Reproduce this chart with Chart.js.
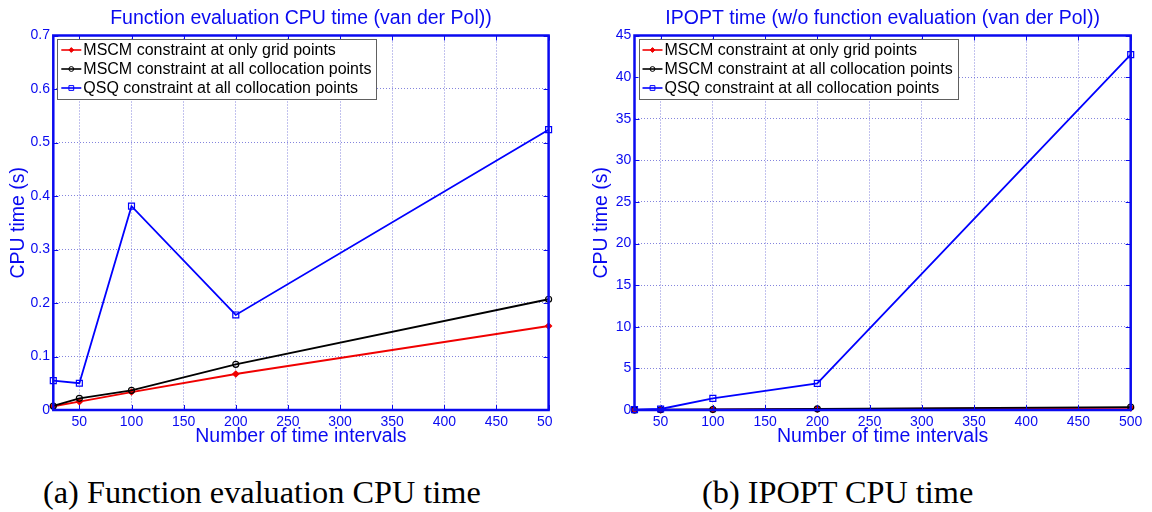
<!DOCTYPE html>
<html>
<head>
<meta charset="utf-8">
<script src="https://cdn.jsdelivr.net/npm/chart.js@4.4.0/dist/chart.umd.min.js"></script>
<style>
  html, body { margin: 0; padding: 0; background: #fff; }
  body { width: 1152px; height: 512px; position: relative; overflow: hidden; }
  .panel { position: absolute; top: 0; height: 460px; overflow: hidden; }
  #panelA { left: 0; width: 553px; }
  #panelB { left: 576px; width: 576px; }
  .caption { position: absolute; top: 476px; font: 32.3px "Liberation Serif", "Times New Roman", serif;
             line-height: 1; white-space: nowrap; color: #000; }
</style>
</head>
<body>
<div class="panel" id="panelA"><canvas id="cpuChart" width="576" height="460"></canvas></div>
<div class="panel" id="panelB"><canvas id="ipoptChart" width="576" height="460"></canvas></div>
<div class="caption" style="left:43px">(a) Function evaluation CPU time</div>
<div class="caption" style="left:702px">(b) IPOPT CPU time</div>
<script>
// ─── Data ────────────────────────────────────────────────────────────────
const intervals    = [25, 50, 100, 200, 500];
const xTicks       = [50, 100, 150, 200, 250, 300, 350, 400, 450, 500];
const seriesLabels = [
    'MSCM constraint at only grid points',
    'MSCM constraint at all collocation points',
    'QSQ constraint at all collocation points'
];

// function evaluation CPU time (s)
const cpuGrid    = [0.007, 0.0156, 0.0336, 0.0673, 0.157];
const cpuColloc  = [0.0075, 0.0218, 0.0368, 0.0854, 0.207];
const cpuQsq     = [0.0548, 0.050, 0.381, 0.1776, 0.524];
const cpuYTicks  = [0, 0.1, 0.2, 0.3, 0.4, 0.5, 0.6, 0.7];

// IPOPT time without function evaluation (s)
const ipoptGrid   = [0.01, 0.02, 0.05, 0.11, 0.25];
const ipoptColloc = [0.01, 0.03, 0.06, 0.14, 0.35];
const ipoptQsq    = [0.05, 0.12, 1.4, 3.2, 42.7];
const ipoptYTicks = [0, 5, 10, 15, 20, 25, 30, 35, 40, 45];

// ─── Style ───────────────────────────────────────────────────────────────
const BLUE      = '#0a0af0';
const GRID_BLUE = 'rgba(110,110,215,0.85)';
const SANS      = '"Liberation Sans", Arial, Helvetica, sans-serif';

const seriesStyles = [
    { color: '#f00000', pointStyle: 'rectRot', radius: 3 },
    { color: '#000000', pointStyle: 'circle',  radius: 3 },
    { color: '#0000ff', pointStyle: 'rect',    radius: 4.2 }
];

// MATLAB-like frame: box, inward ticks, title and boxed legend inside the axes
const matlabAxes = {
    id: 'matlabAxes',
    afterDraw(chart, args, opts) {
        const { ctx, chartArea: a, scales } = chart;
        ctx.save();

        // inward tick marks on all four sides
        ctx.strokeStyle = BLUE;
        ctx.lineWidth = 1;
        ctx.beginPath();
        scales.x.ticks.forEach(t => {
            const px = Math.round(scales.x.getPixelForValue(t.value)) + 0.5;
            ctx.moveTo(px, a.bottom); ctx.lineTo(px, a.bottom - 5);
            ctx.moveTo(px, a.top);    ctx.lineTo(px, a.top + 5);
        });
        scales.y.ticks.forEach(t => {
            const py = Math.round(scales.y.getPixelForValue(t.value)) + 0.5;
            ctx.moveTo(a.left, py);  ctx.lineTo(a.left + 5, py);
            ctx.moveTo(a.right, py); ctx.lineTo(a.right - 5, py);
        });
        ctx.stroke();

        // axes box
        ctx.lineWidth = 2.5;
        ctx.strokeRect(a.left, a.top, a.right - a.left, a.bottom - a.top);

        // title
        ctx.fillStyle = BLUE;
        ctx.font = '19.5px ' + SANS;
        ctx.textAlign = 'center';
        ctx.textBaseline = 'alphabetic';
        ctx.fillText(opts.title, (a.left + a.right) / 2, 24);

        // legend
        ctx.font = '16px ' + SANS;
        const sets   = chart.data.datasets;
        const textW  = Math.max(...sets.map(d => ctx.measureText(d.label).width));
        const bx     = a.left + 4;
        const by     = a.top + 3.5;
        const bw     = 26 + textW + 5;
        const bh     = 60;
        ctx.fillStyle = '#fff';
        ctx.fillRect(bx, by, bw, bh);
        ctx.strokeStyle = '#606060';
        ctx.lineWidth = 1;
        ctx.strokeRect(Math.round(bx) + 0.5, Math.round(by) + 0.5, Math.round(bw), bh);

        sets.forEach((d, i) => {
            const y = by + 11 + i * 19;
            ctx.strokeStyle = d.borderColor;
            ctx.lineWidth = 1.6;
            ctx.beginPath();
            ctx.moveTo(bx + 4, y); ctx.lineTo(bx + 24, y);
            ctx.stroke();
            ctx.fillStyle = d.pointBackgroundColor;
            ctx.strokeStyle = d.pointBorderColor;
            ctx.lineWidth = 1;
            Chart.helpers.drawPoint(ctx, {
                pointStyle: d.pointStyle, radius: d.pointRadius * 0.8,
                rotation: 0, borderWidth: 1
            }, bx + 14, y);
            ctx.fillStyle = '#000';
            ctx.textAlign = 'left';
            ctx.textBaseline = 'middle';
            ctx.fillText(d.label, bx + 26, y + 1);
        });
        ctx.restore();
    }
};

function makeDatasets(seriesValues) {
    return seriesValues.map((vals, i) => {
        const s = seriesStyles[i];
        return {
            label: seriesLabels[i],
            data: intervals.map((x, j) => ({ x, y: vals[j] })),
            borderColor: s.color,
            borderWidth: 1.8,
            pointStyle: s.pointStyle,
            pointRadius: s.radius,
            pointBorderWidth: 1.2,
            pointBorderColor: s.color,
            pointBackgroundColor: s.pointStyle === 'rectRot' ? s.color : 'rgba(0,0,0,0)',
            tension: 0,
            clip: false,
            order: 3 - i
        };
    });
}

function renderPanel(canvasId, title, seriesValues, yTicks, yMax, axisW, padRight, yTitlePad) {
    const ctx = document.getElementById(canvasId).getContext('2d');
    return new Chart(ctx, {
        type: 'line',
        data: { datasets: makeDatasets(seriesValues) },
        options: {
            responsive: false,
            animation: false,
            devicePixelRatio: 1,
            layout: { padding: { top: 35.5, left: 0, right: padRight, bottom: 0 } },
            plugins: {
                legend: { display: false },
                tooltip: { enabled: false },
                matlabAxes: { title }
            },
            scales: {
                x: {
                    type: 'linear',
                    min: 25,
                    max: 500,
                    afterBuildTicks: s => { s.ticks = xTicks.map(v => ({ value: v })); },
                    afterFit: s => { s.height = 50; s.paddingLeft = 0; s.paddingRight = 0; },
                    grid: { color: GRID_BLUE, lineWidth: 1, drawTicks: false },
                    border: { display: false, dash: [1, 2] },
                    ticks: {
                        color: BLUE, font: { family: SANS, size: 14 },
                        padding: 4, autoSkip: false, maxRotation: 0,
                        callback: v => String(v)
                    },
                    title: {
                        display: true, text: 'Number of time intervals', color: BLUE,
                        font: { family: SANS, size: 19.5 }, padding: { top: 0, bottom: 11.4 }
                    }
                },
                y: {
                    min: 0,
                    max: yMax,
                    afterBuildTicks: s => { s.ticks = yTicks.map(v => ({ value: v })); },
                    afterFit: s => { s.width = axisW; s.paddingTop = 0; s.paddingBottom = 0; },
                    grid: { color: GRID_BLUE, lineWidth: 1, drawTicks: false },
                    border: { display: false, dash: [1, 2] },
                    ticks: {
                        color: BLUE, font: { family: SANS, size: 14 },
                        padding: 3.3, callback: v => String(v)
                    },
                    title: {
                        display: true, text: 'CPU time (s)', color: BLUE,
                        font: { family: SANS, size: 19.5 }, padding: { top: yTitlePad, bottom: 0 }
                    }
                }
            }
        },
        plugins: [matlabAxes]
    });
}

renderPanel('cpuChart', 'Function evaluation CPU time (van der Pol))',
    [cpuGrid, cpuColloc, cpuQsq], cpuYTicks, 0.7, 53.3, 27.4, 6.8);
renderPanel('ipoptChart', 'IPOPT time (w/o function evaluation (van der Pol))',
    [ipoptGrid, ipoptColloc, ipoptQsq], ipoptYTicks, 45, 58.5, 21.3, 14.3);
</script>
</body>
</html>
